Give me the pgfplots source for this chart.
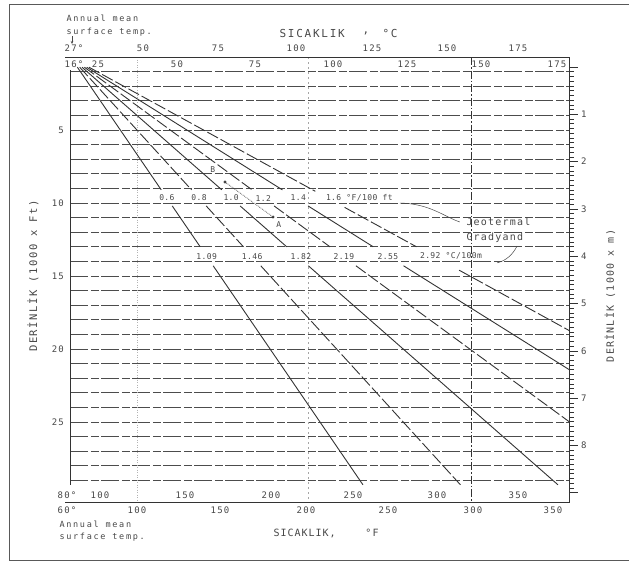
\documentclass[border=0pt]{standalone}
\usepackage{fontspec}
\setmainfont{DejaVu Sans Mono}
\usepackage{pgfplots}
\pgfplotsset{compat=1.18}
\usetikzlibrary{arrows.meta}
\newfontfamily\ttlf[LetterSpace=16]{DejaVu Sans Mono}
\newfontfamily\btlf[LetterSpace=10]{DejaVu Sans Mono}
\newfontfamily\lblf[LetterSpace=20]{DejaVu Sans Mono}
\newfontfamily\numf[LetterSpace=14]{DejaVu Sans Mono}
\newfontfamily\grf[LetterSpace=5]{DejaVu Sans Mono}
\newfontfamily\jgf[LetterSpace=12]{DejaVu Sans Mono}
\newfontfamily\ylf[LetterSpace=15]{DejaVu Sans Mono}
\newcommand\fnum{\numf\fontsize{9}{10}\selectfont}
\newcommand\fgr{\grf\fontsize{8}{9}\selectfont}
\newcommand\fsm{\lblf\fontsize{8.5}{9}\selectfont}
\colorlet{ink}{black!80}
\colorlet{txt}{black!72}
\pgfplotsset{
  solidg/.style={ink, line width=0.9pt},
  dashg/.style={ink, line width=0.9pt, dash pattern=on 12pt off 3pt},
}
\begin{document}
\begin{tikzpicture}
% ---------------- main axis: temperature (F) vs depth (1000 ft)
\begin{axis}[
  at={(70.4pt,-57pt)}, anchor=north west,
  scale only axis, width=499.2pt, height=445.3pt,
  xmin=60, xmax=360, ymin=0, ymax=30.5, y dir=reverse,
  axis line style={draw=none},
  xtick=\empty,
  ytick={1,...,29},
  yticklabels={,,,,5,,,,,10,,,,,15,,,,,20,,,,,25,,,,},
  ytick pos=left, major tick length=0pt,
  yticklabel style={font=\fnum, text=txt, xshift=-3pt},
  ymajorgrids,
  grid style={black!70, line width=0.75pt, dash pattern=on 18pt off 2.5pt on 8pt off 2.5pt},
  clip=false,
]
% reference verticals
\addplot[black!30, line width=0.5pt, dotted] coordinates {(100,0) (100,30.5)};
\addplot[black!35, line width=0.5pt, dash pattern=on 2pt off 3pt] coordinates {(203,0) (203,30.5)};
\addplot[ink, line width=0.6pt, dash pattern=on 8pt off 2pt on 1.5pt off 2pt] coordinates {(301,0) (301,30.5)};
% frame
\draw[ink, line width=0.8pt] (axis cs:57,0) -- (axis cs:360,0) -- (axis cs:360,30.5) -- (axis cs:57,30.5);
\draw[ink, line width=0.8pt] (axis cs:60,0.9) -- (axis cs:60,29.3);
% gradient 0.6 F/100ft
\addplot[solidg] coordinates {(64.2,0.7) (114.6,9.1)};
\addplot[solidg] coordinates {(121.2,10.2) (138,13.0)};
\addplot[solidg] coordinates {(145.8,14.3) (235.8,29.3)};
% gradient 0.8
\addplot[dashg] coordinates {(65.6,0.7) (132.8,9.1)};
\addplot[dashg] coordinates {(141.6,10.2) (164,13.0)};
\addplot[dashg] coordinates {(174.4,14.3) (294.4,29.3)};
% gradient 1.0
\addplot[solidg] coordinates {(67,0.7) (151,9.1)};
\addplot[solidg] coordinates {(162,10.2) (190,13.0)};
\addplot[solidg] coordinates {(203,14.3) (353,29.3)};
% gradient 1.2
\addplot[dashg] coordinates {(68.4,0.7) (169.2,9.1)};
\addplot[dashg] coordinates {(182.4,10.2) (216,13.0)};
\addplot[dashg] coordinates {(231.6,14.3) (360,25.0)};
% gradient 1.4
\addplot[solidg] coordinates {(69.8,0.7) (187.4,9.1)};
\addplot[solidg] coordinates {(202.8,10.2) (242,13.0)};
\addplot[solidg] coordinates {(260.2,14.3) (360,21.43)};
% gradient 1.6
\addplot[dashg] coordinates {(71.2,0.7) (207.2,9.2)};
\addplot[dashg] coordinates {(224.8,10.3) (268,13.0)};
\addplot[dashg] coordinates {(293.6,14.6) (360,18.75)};
% example A-B
\addplot[ink, densely dotted, line width=0.7pt, mark=o, mark size=1.1pt, mark options={solid}] coordinates {(152.9,8.56) (181.8,10.96)};
\node[txt, font=\fgr] at (axis cs:145.6,7.74) {B};
\node[txt, font=\fgr] at (axis cs:185.3,11.5) {A};
% gradient labels (F/100 ft)
\node[txt, font=\fgr] at (axis cs:118,9.66) {0.6};
\node[txt, font=\fgr] at (axis cs:137.3,9.66) {0.8};
\node[txt, font=\fgr] at (axis cs:156.6,9.66) {1.0};
\node[txt, font=\fgr] at (axis cs:175.9,9.66) {1.2};
\node[txt, font=\fgr] at (axis cs:197,9.66) {1.4};
\node[txt, font=\fgr, anchor=west, inner sep=0pt] at (axis cs:213.5,9.66) {1.6 °F/100 ft};
% gradient labels (C/100 m)
\node[txt, font=\fgr] at (axis cs:141.9,13.65) {1.09};
\node[txt, font=\fgr] at (axis cs:169.2,13.65) {1.46};
\node[txt, font=\fgr] at (axis cs:198.5,13.65) {1.82};
\node[txt, font=\fgr] at (axis cs:224.4,13.65) {2.19};
\node[txt, font=\fgr] at (axis cs:250.8,13.65) {2.55};
\node[txt, font=\fgr, anchor=west, inner sep=0pt] at (axis cs:270,13.65) {2.92 °C/100m};
% leaders to "Jeotermal Gradyand"
\draw[txt, line width=0.5pt] (axis cs:258,10.0) .. controls (axis cs:276,10.05) and (axis cs:284,10.9) .. (axis cs:294,11.3);
\draw[txt, line width=0.5pt] (axis cs:316.4,14.1) .. controls (axis cs:322,13.95) and (axis cs:326,13.5) .. (axis cs:328.4,12.95);
\end{axis}
% ---------------- right axis: depth (1000 m)
\begin{axis}[
  at={(70.4pt,-57pt)}, anchor=north west,
  scale only axis, width=499.2pt, height=445.3pt,
  xmin=60, xmax=360, ymin=-0.21, ymax=9.204, y dir=reverse,
  hide x axis, axis y line*=right,
  y axis line style={-, ink, line width=0.8pt},
  ytick={0,...,9}, yticklabels={,1,2,3,4,5,6,7,8,},
  minor y tick num=9,
  tick align=outside,
  major tick length=8pt, minor tick length=4pt,
  every tick/.style={ink, line width=0.5pt},
  yticklabel style={font=\fnum, text=txt},
]
\addplot[draw=none] coordinates {(60,0)};
\end{axis}
% ---------------- scales and texts (pixel coordinates)
\node[txt, font=\fsm, anchor=west] at (63pt,-18pt) {Annual mean};
\node[txt, font=\fsm, anchor=west] at (63pt,-32pt) {surface temp.};
\draw[txt, line width=0.5pt, -{Stealth[length=3pt,width=2.5pt]}] (72pt,-36pt) -- (72pt,-44pt);
\foreach \x/\t in {74/27°,143/50,218/75,296/100,372/125,447/150,518/175}
  \node[txt, font=\fnum] at (\x pt,-48pt) {\t};
\foreach \x/\t in {74/16°,98/25,177/50,255/75,333/100,407/125,481/150,557/175}
  \node[txt, font=\fnum] at (\x pt,-64pt) {\t};
\foreach \x/\t in {67/80°,100/100,185/150,271/200,353/250,437/300,518/350}
  \node[txt, font=\fnum] at (\x pt,-495pt) {\t};
\foreach \x/\t in {67/60°,137/100,220/150,306/200,388/250,473/300,553/350}
  \node[txt, font=\fnum] at (\x pt,-510pt) {\t};
\node[txt, font=\fsm, anchor=west] at (56pt,-524pt) {Annual mean};
\node[txt, font=\fsm, anchor=west] at (56pt,-537pt) {surface temp.};
% axis titles
\node[txt, font={\ttlf\fontsize{11}{12}\selectfont}, anchor=west] at (276pt,-33pt) {SICAKLIK};
\node[txt, font={\ttlf\fontsize{11}{12}\selectfont}] at (366pt,-33pt) {,};
\node[txt, font={\ttlf\fontsize{11}{12}\selectfont}] at (390pt,-33pt) {°C};
\node[txt, font={\btlf\fontsize{10}{12}\selectfont}, anchor=west] at (270pt,-533pt) {SICAKLIK,};
\node[txt, font={\btlf\fontsize{10}{12}\selectfont}] at (372pt,-533pt) {°F};
\node[txt, font={\ylf\fontsize{10.5}{12}\selectfont}, rotate=90] at (33pt,-276pt) {DERİNLİK (1000 x Ft)};
\node[txt, font={\jgf\fontsize{10}{12}\selectfont}, rotate=90] at (610pt,-296pt) {DERİNLİK (1000 x m)};
\node[txt, font={\jgf\fontsize{10}{12}\selectfont}, anchor=west] at (463pt,-222pt) {Jeotermal};
\node[txt, font={\jgf\fontsize{10}{12}\selectfont}, anchor=west] at (463pt,-238pt) {Gradyand};
% outer frame of the figure
\draw[black!65, line width=0.8pt] (629pt,-4pt) -- (9pt,-4pt) -- (9pt,-560pt) -- (629pt,-560pt);
\pgfresetboundingbox
\path[use as bounding box] (0pt,0pt) rectangle (629pt,-565pt);
\end{tikzpicture}
\end{document}
